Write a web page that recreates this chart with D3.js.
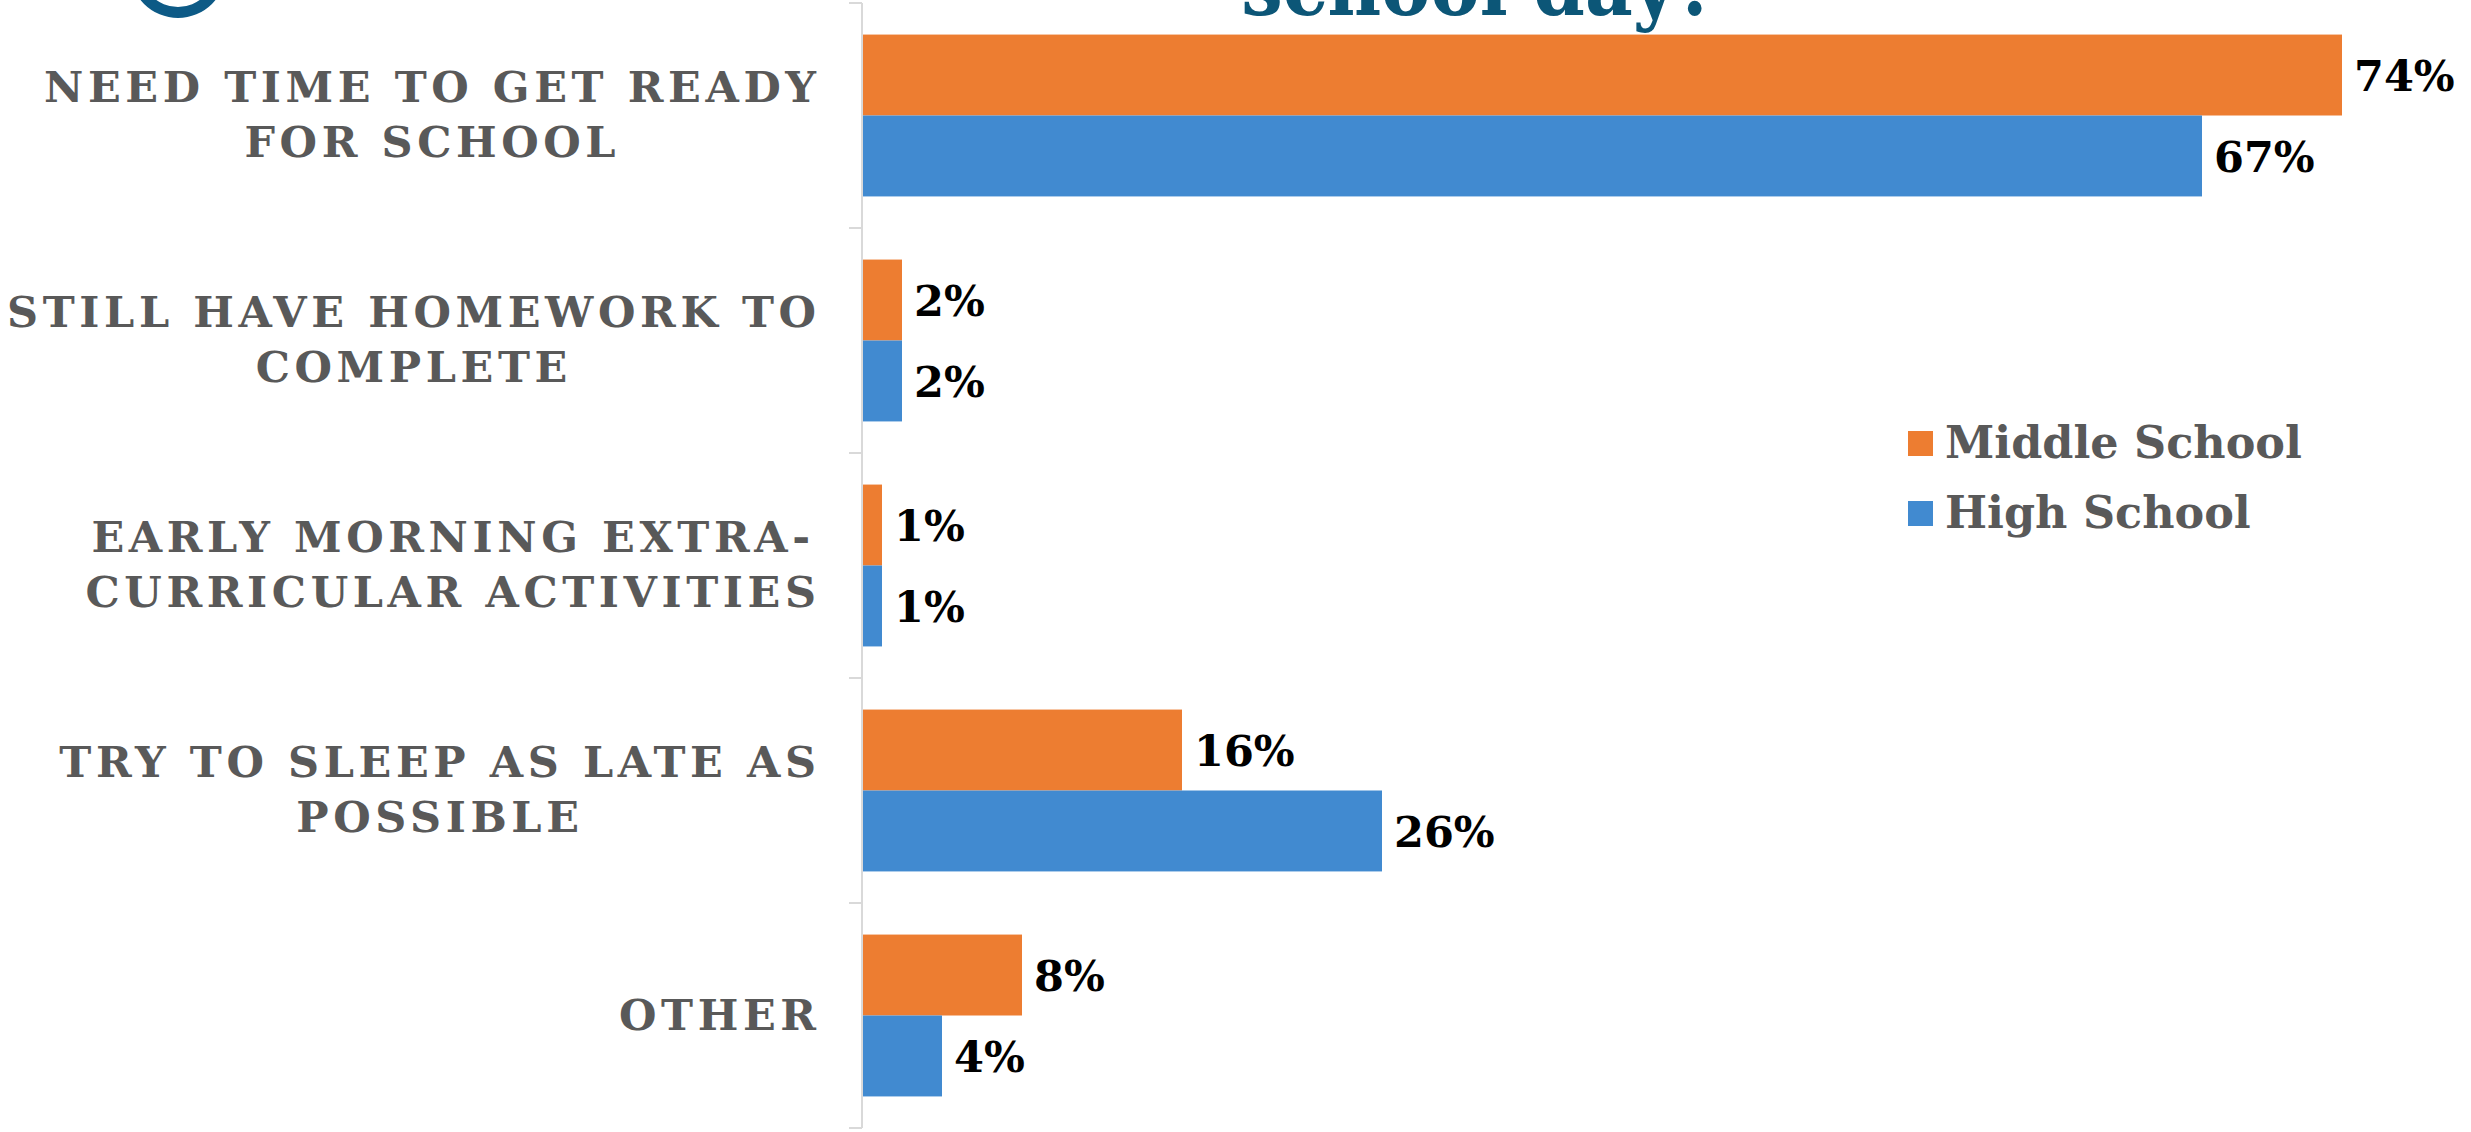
<!DOCTYPE html>
<html>
<head>
<meta charset="utf-8">
<script src="https://cdn.jsdelivr.net/npm/d3@7"></script>
<style>
  html, body { margin: 0; padding: 0; background: #ffffff; }
  svg { display: block; }
</style>
</head>
<body>
<svg id="chart" width="2471" height="1132"></svg>
<script>
// Survey responses: reasons for the morning routine before the school day
const categories = [
  ["NEED TIME TO GET READY", "FOR SCHOOL"],
  ["STILL HAVE HOMEWORK TO", "COMPLETE"],
  ["EARLY MORNING EXTRA-", "CURRICULAR ACTIVITIES"],
  ["TRY TO SLEEP AS LATE AS", "POSSIBLE"],
  ["OTHER"]
];
const seriesNames = ["Middle School", "High School"];
const middleSchool = [74, 2, 1, 16, 8];
const highSchool = [67, 2, 1, 26, 4];
const seriesColors = ["#ED7D31", "#418AD0"];

const titleText = "school day?";

const serif = "Georgia, 'DejaVu Serif', serif";
const serifNarrow = "'DejaVu Serif Condensed', 'DejaVu Serif', Georgia, serif";
const W = 2471, H = 1132;
const margin = { left: 862, top: 3, bottom: 4 };

const svg = d3.select("#chart");

const catKeys = categories.map(c => c.join(" "));
const rows = catKeys.map((k, i) => ({ key: k, lines: categories[i], values: [middleSchool[i], highSchool[i]] }));

const x = d3.scaleLinear().domain([0, 80]).range([margin.left, margin.left + 1600]);
const y = d3.scaleBand().domain(catKeys).range([margin.top, H - margin.bottom]).paddingInner(0).paddingOuter(0);
const ySub = d3.scaleBand().domain(seriesNames).range([0, y.bandwidth()]).paddingInner(0).paddingOuter(0.39);

// Logo ring fragment in the upper-left corner
svg.append("path")
  .attr("transform", "translate(178,-30)")
  .attr("d", d3.arc().innerRadius(37).outerRadius(48).startAngle(0).endAngle(2 * Math.PI)())
  .attr("fill", "#0d5a86");

// Title (bottom line)
svg.append("text")
  .attr("x", 1480).attr("y", 15)
  .attr("text-anchor", "middle")
  .attr("font-family", serifNarrow)
  .attr("font-weight", "bold")
  .attr("font-size", 82)
  .attr("fill", "#0c5677")
  .text(titleText);

// Category axis: vertical line and boundary ticks
const axisG = svg.append("g").attr("class", "y-axis");
axisG.append("line")
  .attr("x1", margin.left).attr("x2", margin.left)
  .attr("y1", y.range()[0]).attr("y2", y.range()[1])
  .attr("stroke", "#d9d9d9").attr("stroke-width", 2);
const boundaries = catKeys.map(k => y(k)).concat([y.range()[1]]);
axisG.selectAll("line.tick").data(boundaries).join("line")
  .attr("class", "tick")
  .attr("x1", margin.left - 13).attr("x2", margin.left)
  .attr("y1", d => d).attr("y2", d => d)
  .attr("stroke", "#d9d9d9").attr("stroke-width", 2);

// Category labels: lines centred on each other, block right-aligned to the axis
const letterSp = 4.6;
const labelRight = 816 + letterSp;
const lineH = 55;
const catLabels = svg.append("g").selectAll("text").data(rows).join("text")
  .attr("font-family", serif)
  .attr("font-weight", "bold")
  .attr("font-size", 43)
  .attr("letter-spacing", letterSp)
  .attr("fill", "#595959")
  .attr("text-anchor", "middle");
catLabels.each(function(d) {
  const t = d3.select(this);
  const cy = y(d.key) + y.bandwidth() / 2;
  const n = d.lines.length;
  d.lines.forEach((ln, i) => {
    t.append("tspan")
      .attr("y", cy + (i - (n - 1) / 2) * lineH + 14)
      .text(ln);
  });
  let maxW = 0;
  t.selectAll("tspan").each(function() { maxW = Math.max(maxW, this.getComputedTextLength()); });
  t.selectAll("tspan").attr("x", labelRight - maxW / 2);
});

// Bars
const groups = svg.append("g").selectAll("g").data(rows).join("g")
  .attr("transform", d => `translate(0,${y(d.key)})`);
groups.selectAll("rect")
  .data(d => d.values.map((v, i) => ({ v, s: seriesNames[i], c: seriesColors[i] })))
  .join("rect")
  .attr("x", x(0) + 1)
  .attr("y", d => ySub(d.s))
  .attr("width", d => x(d.v) - x(0) - 1)
  .attr("height", ySub.bandwidth())
  .attr("fill", d => d.c);

// Value labels
groups.selectAll("text")
  .data(d => d.values.map((v, i) => ({ v, s: seriesNames[i] })))
  .join("text")
  .attr("x", d => x(d.v) + 12)
  .attr("y", d => ySub(d.s) + ySub.bandwidth() / 2 + 16)
  .attr("font-family", serif)
  .attr("font-weight", "bold")
  .attr("font-size", 43)
  .attr("fill", "#000000")
  .text(d => d.v + "%");

// Legend
const legend = svg.append("g").selectAll("g").data(seriesNames).join("g")
  .attr("transform", (d, i) => `translate(1908,${431 + i * 70})`);
legend.append("rect")
  .attr("width", 25).attr("height", 25)
  .attr("fill", (d, i) => seriesColors[i]);
legend.append("text")
  .attr("x", 37).attr("y", 27)
  .attr("font-family", serif)
  .attr("font-weight", "bold")
  .attr("font-size", 44.5)
  .attr("fill", "#595959")
  .text(d => d);
</script>
</body>
</html>
